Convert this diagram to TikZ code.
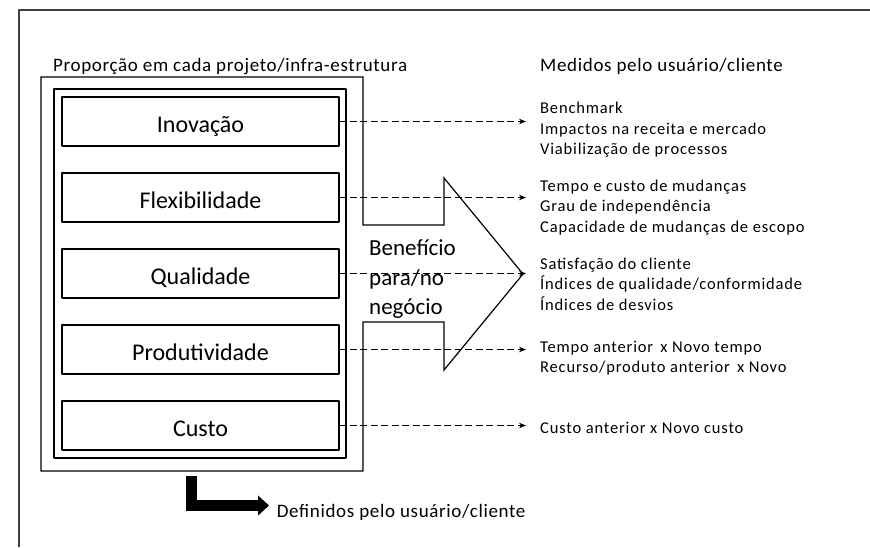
\documentclass[tikz,border=0pt]{standalone}
\usepackage{fontspec}
\setmainfont{Carlito}
\usetikzlibrary{positioning,arrows.meta}
\begin{document}
\begin{tikzpicture}[x=1pt,y=-1pt,line join=round,>={Stealth[length=7pt,width=5.5pt]}]
    \tikzset{
        itembox/.style={draw,line width=1.2pt,minimum width=277pt,minimum height=49pt,outer sep=0pt,inner sep=0pt,text height=21pt,text depth=0pt,font=\fontsize{24}{29}\selectfont},
        dasharrow/.style={->,dash pattern=on 7pt off 3.5pt,line width=1pt},
        medida/.style={anchor=north west,align=left,inner sep=0pt,font=\fontsize{16.5}{20.5}\selectfont\addfontfeature{LetterSpace=5}},
        titulo/.style={anchor=base west,inner sep=0pt,font=\fontsize{19}{23}\selectfont\addfontfeature{LetterSpace=3.5}},
        bigarrow/.style={line width=11.5pt,line join=miter,-{Triangle[length=11pt,width=19.5pt]}}
    }
    \def \gap{27pt}
    \useasboundingbox (0,0) rectangle (870,547);
    \draw[line width=1.6pt,black!75] (19,547) -- (19,10) -- (870,10);
    \node[titulo] (prop) at (53,71.5) {Proporção em cada projeto/infra-estrutura};
    \node[titulo] (med) at (540,71.5) {Medidos pelo usuário/cliente};
    \draw[line width=1.2pt,line join=miter] (41,77) -- (363,77) -- (363,225) -- (444,225) -- (444,178) -- (523,274)
        -- (444,370) -- (444,322) -- (363,322) -- (363,471) -- (41,471) -- cycle;
    \draw[line width=1.2pt] (54,89) rectangle (346,458);
    \node[itembox] (inov) at (200.5,121.5) {Inovação};
    \node[itembox,below=\gap of inov] (flex) {Flexibilidade};
    \node[itembox,below=\gap of flex] (qual) {Qualidade};
    \node[itembox,below=\gap of qual] (prod) {Produtividade};
    \node[itembox,below=\gap of prod] (cust) {Custo};
    \node[anchor=north west,align=left,inner sep=0pt,font=\fontsize{23}{29.5}\selectfont] (benef) at (369,239.5) {Benefício\\para/no\\negócio};
    \coordinate (tipx) at (526,0);
    \foreach \n in {inov,flex,qual,prod,cust}
        \draw[dasharrow] (\n.east) -- (\n.east -| tipx);
    \node[medida] (m1) at (540,102) {Benchmark\\Impactos na receita e mercado\\Viabilização de processos};
    \node[medida] (m2) at (540,179.5) {Tempo e custo de mudanças\\Grau de independência\\Capacidade de mudanças de escopo};
    \node[medida] (m3) at (540,257.5) {Satisfação do cliente\\Índices de qualidade/conformidade\\Índices de desvios};
    \node[medida] (m4) at (540,340.5) {Tempo anterior\, x Novo tempo\\Recurso/produto anterior\, x Novo};
    \node[medida] (m5) at (540,421.5) {Custo anterior x Novo custo};
    \coordinate (drop) at (191.4,476);
    \coordinate (defin) at (269,505.5);
    \draw[bigarrow] (drop) |- (defin);
    \node[titulo] (def) at (276.7,517.3) {Definidos pelo usuário/cliente};
\end{tikzpicture}
\end{document}
